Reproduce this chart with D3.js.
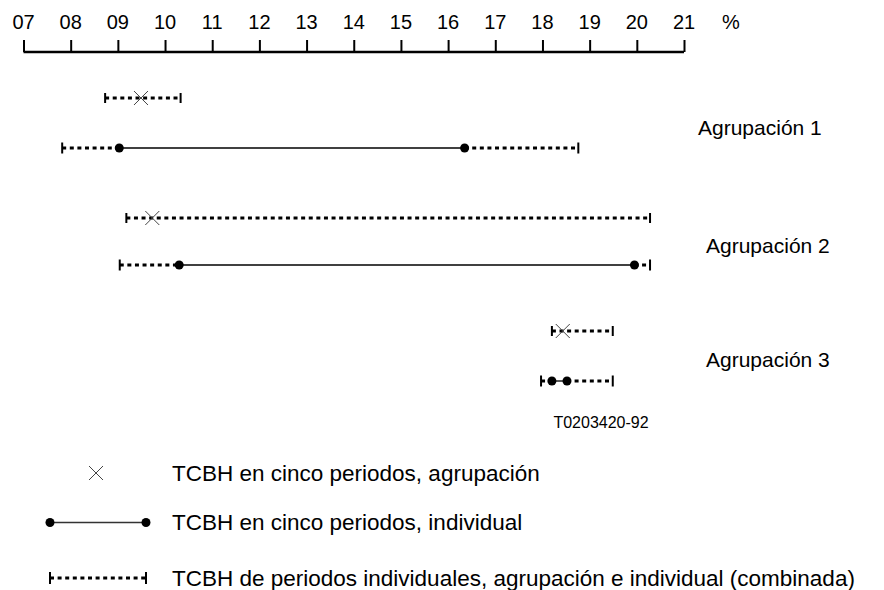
<!DOCTYPE html>
<html>
<head>
<meta charset="utf-8">
<script src="https://cdn.jsdelivr.net/npm/d3@7"></script>
<style>
  html, body { margin: 0; padding: 0; background: #fff; }
  svg { display: block; font-family: "Liberation Sans", Arial, Helvetica, sans-serif; }
</style>
</head>
<body>
<svg id="chart" width="884" height="590"></svg>
<script>
// ---- data ----
const tickValues = [7, 8, 9, 10, 11, 12, 13, 14, 15, 16, 17, 18, 19, 20, 21];
const tickLabels = ["07","08","09","10","11","12","13","14","15","16","17","18","19","20","21"];
const groups = ["Agrupación 1", "Agrupación 2", "Agrupación 3"];
// combined range (agrupación row): [low, high]
const groupRangeLow  = [8.73, 9.18, 18.20];
const groupRangeHigh = [10.33, 20.28, 19.49];
// five-period value, agrupación (X)
const groupFive = [9.49, 9.73, 18.43];
// combined range (individual row)
const indivRangeLow  = [7.82, 9.04, 17.97];
const indivRangeHigh = [18.76, 20.28, 19.49];
// five-period values, individual (two dots)
const indivFiveLow  = [9.03, 10.30, 18.20];
const indivFiveHigh = [16.35, 19.95, 18.52];
const legendLabels = [
  "TCBH en cinco periodos, agrupación",
  "TCBH en cinco periodos, individual",
  "TCBH de periodos individuales, agrupación e individual (combinada)"
];
const figureCode = "T0203420-92";

// ---- layout ----
const svg = d3.select("#chart");
const x = d3.scaleLinear().domain([7, 21]).range([23.5, 684]);
const axisY = 52;
const rowY1 = [98, 218, 331];
const rowY2 = [148, 265, 381];
const labelY = [135, 253, 367];
const labelX = [698, 706, 706];

const DASH = "4,3.6";

// axis
const axis = d3.axisTop(x).tickValues(tickValues).tickSize(12).tickFormat(() => "");
const ag = svg.append("g").attr("transform", `translate(0,${axisY})`).call(axis);
ag.select(".domain").attr("d", `M${x(7)},0H${x(21)}`).attr("stroke", "#000").attr("stroke-width", 2.5);
ag.selectAll(".tick line").attr("stroke", "#000").attr("stroke-width", 2);
svg.append("g").selectAll("text").data(tickValues).join("text")
  .attr("x", d => x(d)).attr("y", 28.5)
  .attr("text-anchor", "middle").attr("font-size", 20).attr("fill", "#000")
  .text((d, i) => tickLabels[i]);
svg.append("text").attr("x", 731).attr("y", 28.5).attr("text-anchor", "middle")
  .attr("font-size", 20).text("%");

function dottedSeg(g, a, b, y) {
  g.append("line").attr("x1", x(a)).attr("x2", x(b)).attr("y1", y).attr("y2", y)
    .attr("stroke", "#000").attr("stroke-width", 3).attr("stroke-dasharray", DASH);
}
function bracket(g, v, y, bh) {
  g.append("line").attr("x1", x(v)).attr("x2", x(v)).attr("y1", y - bh / 2).attr("y2", y + bh / 2)
    .attr("stroke", "#000").attr("stroke-width", 2);
}
function xMark(g, cx, cy, s) {
  g.append("path").attr("d", `M${cx - s},${cy - s}L${cx + s},${cy + s}M${cx - s},${cy + s}L${cx + s},${cy - s}`)
    .attr("stroke", "#444").attr("stroke-width", 1).attr("fill", "none");
}

const plot = svg.append("g");
groups.forEach((name, i) => {
  dottedSeg(plot, groupRangeLow[i], groupRangeHigh[i], rowY1[i]);
  bracket(plot, groupRangeLow[i], rowY1[i], 10);
  bracket(plot, groupRangeHigh[i], rowY1[i], 10);
  xMark(plot, x(groupFive[i]), rowY1[i], 7);

  dottedSeg(plot, indivRangeLow[i], indivFiveLow[i], rowY2[i]);
  dottedSeg(plot, indivFiveHigh[i], indivRangeHigh[i], rowY2[i]);
  bracket(plot, indivRangeLow[i], rowY2[i], 11);
  bracket(plot, indivRangeHigh[i], rowY2[i], 11);
  plot.append("line").attr("x1", x(indivFiveLow[i])).attr("x2", x(indivFiveHigh[i]))
    .attr("y1", rowY2[i]).attr("y2", rowY2[i]).attr("stroke", "#000").attr("stroke-width", 1.3);
  [indivFiveLow[i], indivFiveHigh[i]].forEach(v => {
    plot.append("circle").attr("cx", x(v)).attr("cy", rowY2[i]).attr("r", 4.5).attr("fill", "#000");
  });

  svg.append("text").attr("x", labelX[i]).attr("y", labelY[i]).attr("font-size", 21).text(name);
});

svg.append("text").attr("x", 601).attr("y", 428).attr("text-anchor", "middle")
  .attr("font-size", 16).text(figureCode);

// legend
const lg = svg.append("g");
const lx0 = 50, lx1 = 146;
xMark(lg, 96, 473, 7);
lg.append("line").attr("x1", lx0).attr("x2", lx1).attr("y1", 522.5).attr("y2", 522.5)
  .attr("stroke", "#333").attr("stroke-width", 1.3);
[lx0, lx1].forEach(v => lg.append("circle").attr("cx", v).attr("cy", 522.5).attr("r", 4.5).attr("fill", "#000"));
lg.append("line").attr("x1", lx0).attr("x2", lx1).attr("y1", 578).attr("y2", 578)
  .attr("stroke", "#000").attr("stroke-width", 3).attr("stroke-dasharray", DASH);
[lx0, lx1].forEach(v => lg.append("line").attr("x1", v).attr("x2", v).attr("y1", 572).attr("y2", 584)
  .attr("stroke", "#000").attr("stroke-width", 2));
const legendY = [481, 530, 586];
legendLabels.forEach((t, i) => {
  lg.append("text").attr("x", 172).attr("y", legendY[i]).attr("font-size", 22.5).text(t);
});
</script>
</body>
</html>
